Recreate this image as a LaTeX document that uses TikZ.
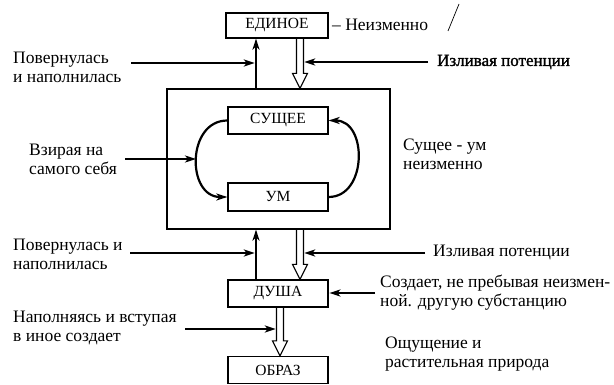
\documentclass[tikz,border=0pt]{standalone}
\usepackage{fontspec}
\setmainfont{Liberation Serif}
\newfontfamily\boldish[FakeBold=1.5]{Liberation Serif}
\usetikzlibrary{arrows.meta,calc}
\newcommand\hollowarrow[2]{%
  \draw[hollow] ($(#1)+(-3.5,0)$) -- ($(#2)+(-3.5,-15)$) -- ($(#2)+(-7.5,-15)$)
    -- (#2) -- ($(#2)+(7.5,-15)$) -- ($(#2)+(3.5,-15)$) -- ($(#1)+(3.5,0)$);}
\begin{document}
\begin{tikzpicture}[x=1pt,y=-1pt,
  box/.style={draw, line width=1.2pt, inner sep=0pt, font=\fontsize{15.5}{17}\selectfont},
  lbl/.style={anchor=west, align=left, inner sep=0pt, font=\fontsize{17.5}{19}\selectfont},
  arr/.style={line width=2.2pt, -{Stealth[length=11pt,width=7pt,inset=3pt]}},
  hollow/.style={line width=1.1pt, line join=miter},
]
\useasboundingbox (0,0) rectangle (614,385);
% boxes
\node[box, minimum width=102pt, minimum height=25pt] (edinoe) at (277,25.5) {ЕДИНОЕ};
\node[box, minimum width=223pt, minimum height=140pt] (big) at (278.5,159) {};
\node[box, minimum width=100pt, minimum height=27pt] (sushee) at (278,120.5) {СУЩЕЕ};
\node[box, minimum width=100pt, minimum height=28pt] (um) at (278,197) {УМ};
\node[box, minimum width=100pt, minimum height=27pt] (dusha) at (278,293.5) {ДУША};
\node[box, minimum width=100pt, minimum height=27pt] (obraz) at (278,370) {ОБРАЗ};
% labels
\node[lbl] (l1) at (13,67) {Повернулась\\и наполнилась};
\node[lbl, font=\boldish\fontsize{17}{19}\selectfont] (l2) at (437,62) {Изливая потенции};
\node[lbl] (l3) at (332,25) {– Неизменно};
\node[lbl] (l4) at (29,159) {Взирая на\\самого себя};
\node[lbl] (l5) at (403,154) {Сущее - ум\\неизменно};
\node[lbl] (l6) at (13,254) {Повернулась и\\наполнилась};
\node[lbl] (l7) at (433,252) {Изливая потенции};
\node[lbl] (l8) at (380,292.5) {Создает, не пребывая неизмен-\\ной. другую субстанцию};
\node[lbl] (l9) at (13,327.5) {Наполняясь и вступая\\в иное создает};
\node[lbl] (l10) at (385,354) {Ощущение и\\растительная природа};
% helper coordinates
\coordinate (upx) at (256,0);
\coordinate (hx) at (300,0);
\coordinate (hx2) at (280,0);
% vertical arrows
\draw[arr] (big.north -| upx) -- (edinoe.south -| upx);
\draw[arr] (dusha.north -| upx) -- (big.south -| upx);
\coordinate (h1a) at (edinoe.south -| hx);
\coordinate (h1b) at (big.north -| hx);
\coordinate (h2a) at (big.south -| hx);
\coordinate (h2b) at (dusha.north -| hx);
\coordinate (h3a) at (dusha.south -| hx2);
\coordinate (h3b) at (obraz.north -| hx2);
\hollowarrow{h1a}{h1b}
\hollowarrow{h2a}{h2b}
\hollowarrow{h3a}{h3b}
% horizontal arrows
\coordinate (a1s) at (131,63);
\draw[arr] (a1s) -- ($(a1s -| upx)+(-1.2,0)$);
\coordinate (a2s) at (428,62);
\draw[arr] (a2s) -- ($(a2s -| hx)+(4.2,0)$);
\coordinate (a4s) at (130,253);
\draw[arr] (a4s) -- ($(a4s -| upx)+(-1.2,0)$);
\coordinate (a5s) at (425,253);
\draw[arr] (a5s) -- ($(a5s -| hx)+(4.2,0)$);
\coordinate (a6s) at (375,293);
\draw[arr] (a6s) -- ($(a6s -| dusha.east)+(0.8,0)$);
\coordinate (a7s) at (185,329);
\draw[arr] (a7s) -- ($(a7s -| hx2)+(-4.2,0)$);
\coordinate (a3s) at (125,159);
\coordinate (a3e) at (196,159);
\draw[arr] (a3s) -- (a3e);
% cycle arcs
\draw[arr] (sushee.west) .. controls ($(sushee.west)+(-41,0)$) and ($(um.west)+(-41,0)$) .. (um.west);
\draw[arr] (um.east) .. controls ($(um.east)+(39,0)$) and ($(sushee.east)+(39,0)$) .. (sushee.east);
% scan mark
\draw[line width=0.7pt] (459,4) -- (448,31);
\end{tikzpicture}
\end{document}
